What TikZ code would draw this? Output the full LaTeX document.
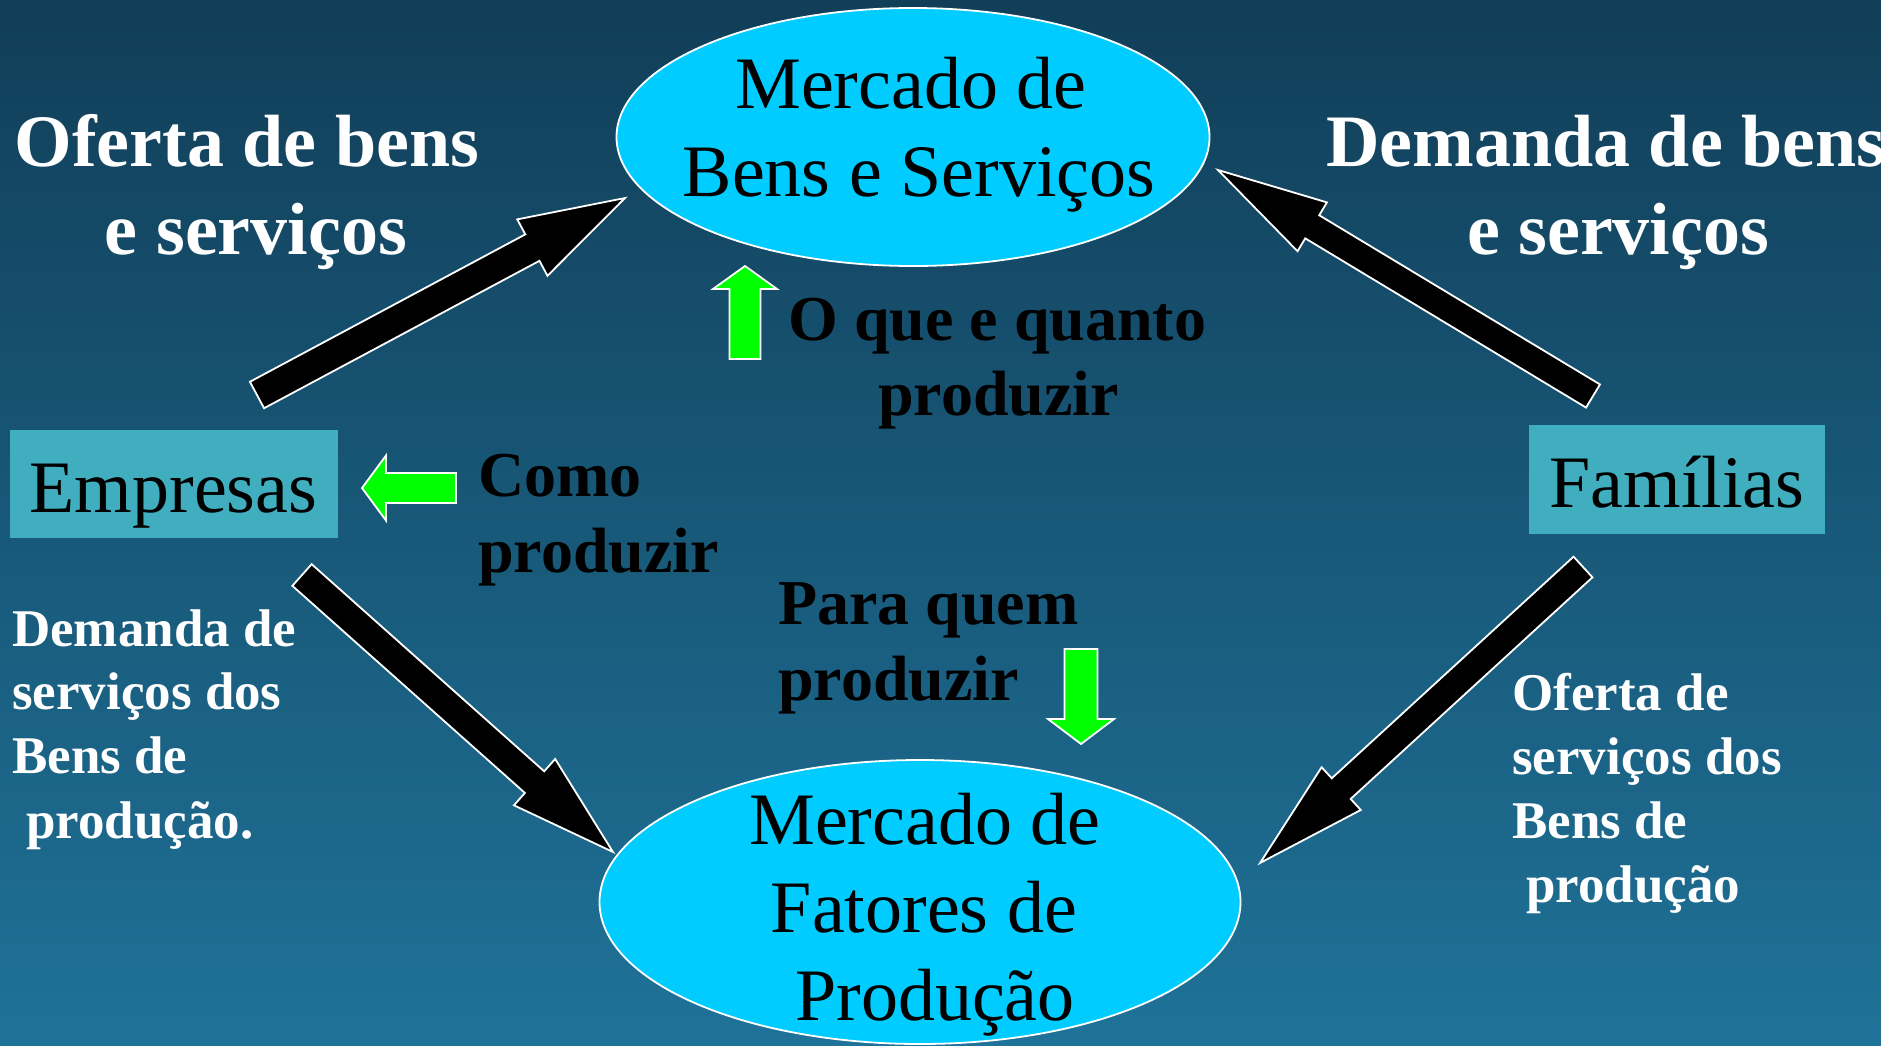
\documentclass[tikz,border=0pt]{standalone}
\usepackage{fontspec}
\setmainfont{Liberation Serif}
\usetikzlibrary{calc,shapes.geometric}
\definecolor{bgtop}{RGB}{17,62,88}
\definecolor{bgbot}{RGB}{31,114,152}
\definecolor{ellfill}{RGB}{0,204,255}
\definecolor{boxfill}{RGB}{64,174,191}
\definecolor{grn}{RGB}{0,255,0}
\newcommand\blockarr[6]{%
  \path let \p1=($(#2)-(#1)$), \n1={veclen(\x1,\y1)}, \n2={atan2(\y1,\x1)} in
    \pgfextra{\xdef\arrlen{\n1}\xdef\arrang{\n2}};
  \begin{scope}[shift={(#1)}, rotate=\arrang]
    \draw[#6] (0,-#3/2) -- (\arrlen-#5,-#3/2) -- (\arrlen-#5,-#4/2) -- (\arrlen,0)
      -- (\arrlen-#5,#4/2) -- (\arrlen-#5,#3/2) -- (0,#3/2) -- cycle;
  \end{scope}
}
\begin{document}
\begin{tikzpicture}[x=1pt,y=-1pt,
  market/.style={shape=ellipse, draw=white, line width=1.8pt, fill=ellfill, inner sep=0pt},
  agent/.style={fill=boxfill, inner sep=0pt, anchor=base, text height=82pt, font=\fontsize{74}{88}\selectfont},
  bigtxt/.style={font=\fontsize{74}{88}\selectfont, inner sep=0pt, anchor=base},
  whitebig/.style={font=\bfseries\fontsize{74}{88}\selectfont, text=white, inner sep=0pt, anchor=base},
  question/.style={font=\bfseries\fontsize{64}{76}\selectfont, text=black, inner sep=0pt, anchor=base west},
  flowtxt/.style={font=\bfseries\fontsize{53}{64}\selectfont, text=white, inner sep=0pt, anchor=base west},
  bigarrow/.style={draw=white, line width=1.8pt, fill=black, line join=miter},
  grnarrow/.style={draw=white, line width=1.8pt, fill=grn, line join=miter}]
\useasboundingbox (0,0) rectangle (1881,1045);
\shade[top color=bgtop, bottom color=bgbot] (0,0) rectangle (1881,1045);
\clip (0,0) rectangle (1881,1045);

% markets
\node[market, minimum width=593pt, minimum height=258pt] (mbs) at (913,137) {};
\node[market, minimum width=641pt, minimum height=284pt] (mfp) at (920,902) {};
\node[bigtxt] (mbs1) at (911,108) {Mercado de};
\node[bigtxt] (mbs2) at (919,196) {Bens e Serviços};
\node[bigtxt] (mfp1) at (925,844) {Mercado de};
\node[bigtxt] (mfp2) at (924,932) {Fatores de};
\node[bigtxt] (mfp3) at (935,1020) {Produção};

% agents
\node[agent, minimum width=328pt, text depth=26pt] (emp) at (173.5,512) {Empresas};
\node[agent, minimum width=296pt, text depth=27pt] (fam) at (1677,507) {Famílias};

% big arrows
\coordinate (a1s) at (257,395); \coordinate (a1e) at (625,198);
\coordinate (a2s) at (1593,396); \coordinate (a2e) at (1218,170);
\coordinate (a3s) at (302,575); \coordinate (a3e) at (613,852);
\coordinate (a4s) at (1583,567); \coordinate (a4e) at (1260,863);
\blockarr{a1s}{a1e}{30}{64}{105}{bigarrow}
\blockarr{a2s}{a2e}{27}{57}{110}{bigarrow}
\blockarr{a3s}{a3e}{29}{62}{105}{bigarrow}
\blockarr{a4s}{a4e}{28}{58}{110}{bigarrow}

% green arrows
\coordinate (g1s) at (745,359); \coordinate (g1e) at (745,266);
\coordinate (g2s) at (456,488); \coordinate (g2e) at (362,488);
\coordinate (g3s) at (1081,649); \coordinate (g3e) at (1081,744);
\blockarr{g1s}{g1e}{31}{64}{23}{grnarrow}
\blockarr{g2s}{g2e}{30}{65}{24}{grnarrow}
\blockarr{g3s}{g3e}{33}{66}{25}{grnarrow}

% titles
\node[whitebig] (of1) at (247,166) {Oferta de bens};
\node[whitebig] (of2) at (256,254) {e serviços};
\node[whitebig, anchor=base west] (de1) at (1326,166) {Demanda de bens};
\node[whitebig] (de2) at (1618,254) {e serviços};

% questions
\node[question] (q1a) at (788,340) {O que e quanto};
\node[question] (q1b) at (878,415) {produzir};
\node[question] (q2a) at (478,496) {Como};
\node[question] (q2b) at (478,572) {produzir};
\node[question] (q3a) at (778,624) {Para quem};
\node[question] (q3b) at (778,700) {produzir};

% flow texts
\node[flowtxt] (l1) at (12,646) {Demanda de};
\node[flowtxt] (l2) at (12,709) {serviços dos};
\node[flowtxt] (l3) at (12,773) {Bens de};
\node[flowtxt] (l4) at (26,838) {produção.};
\node[flowtxt] (r1) at (1512,710) {Oferta de};
\node[flowtxt] (r2) at (1512,774) {serviços dos};
\node[flowtxt] (r3) at (1512,838) {Bens de};
\node[flowtxt] (r4) at (1526,902) {produção};
\end{tikzpicture}
\end{document}
